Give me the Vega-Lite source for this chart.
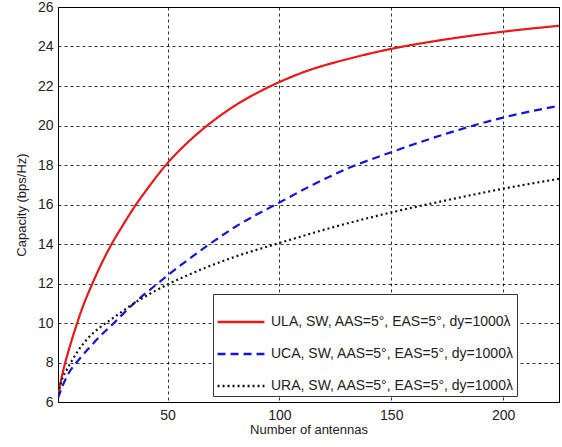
{
  "$schema": "https://vega.github.io/schema/vega-lite/v6.json",
  "width": 501,
  "height": 395,
  "autosize": {"type": "none"},
  "padding": {"left": 58, "top": 7, "right": 3, "bottom": 45},
  "background": "white",
  "config": {
    "font": "Liberation Sans",
    "view": {"stroke": "black", "strokeWidth": 1}
  },
  "datasets": {
    "curves": [
      {"n": 1, "c": 6.3, "s": "ULA"}, {"n": 2, "c": 6.9, "s": "ULA"}, {"n": 4, "c": 7.9, "s": "ULA"}, {"n": 6, "c": 8.7, "s": "ULA"}, {"n": 9, "c": 9.8, "s": "ULA"}, {"n": 12, "c": 10.8, "s": "ULA"}, {"n": 16, "c": 11.9, "s": "ULA"}, {"n": 20, "c": 12.9, "s": "ULA"}, {"n": 25, "c": 14.0, "s": "ULA"}, {"n": 30, "c": 14.95, "s": "ULA"}, {"n": 35, "c": 15.85, "s": "ULA"}, {"n": 40, "c": 16.65, "s": "ULA"}, {"n": 50, "c": 18.1, "s": "ULA"}, {"n": 60, "c": 19.25, "s": "ULA"}, {"n": 70, "c": 20.2, "s": "ULA"}, {"n": 80, "c": 21.0, "s": "ULA"}, {"n": 90, "c": 21.65, "s": "ULA"}, {"n": 100, "c": 22.2, "s": "ULA"}, {"n": 112, "c": 22.75, "s": "ULA"}, {"n": 130, "c": 23.35, "s": "ULA"}, {"n": 150, "c": 23.88, "s": "ULA"}, {"n": 175, "c": 24.37, "s": "ULA"}, {"n": 200, "c": 24.75, "s": "ULA"}, {"n": 225, "c": 25.05, "s": "ULA"},
      {"n": 1, "c": 6.2, "s": "UCA"}, {"n": 3, "c": 6.8, "s": "UCA"}, {"n": 5, "c": 7.3, "s": "UCA"}, {"n": 10, "c": 8.1, "s": "UCA"}, {"n": 15, "c": 8.75, "s": "UCA"}, {"n": 20, "c": 9.35, "s": "UCA"}, {"n": 26, "c": 10.0, "s": "UCA"}, {"n": 35, "c": 11.0, "s": "UCA"}, {"n": 45, "c": 11.95, "s": "UCA"}, {"n": 55, "c": 12.85, "s": "UCA"}, {"n": 67, "c": 13.85, "s": "UCA"}, {"n": 80, "c": 14.85, "s": "UCA"}, {"n": 100, "c": 16.1, "s": "UCA"}, {"n": 115, "c": 17.0, "s": "UCA"}, {"n": 130, "c": 17.8, "s": "UCA"}, {"n": 150, "c": 18.65, "s": "UCA"}, {"n": 175, "c": 19.6, "s": "UCA"}, {"n": 200, "c": 20.4, "s": "UCA"}, {"n": 225, "c": 21.0, "s": "UCA"},
      {"n": 1, "c": 6.4, "s": "URA"}, {"n": 3, "c": 7.2, "s": "URA"}, {"n": 5, "c": 7.65, "s": "URA"}, {"n": 7, "c": 8.05, "s": "URA"}, {"n": 10, "c": 8.6, "s": "URA"}, {"n": 15, "c": 9.3, "s": "URA"}, {"n": 20, "c": 9.8, "s": "URA"}, {"n": 25, "c": 10.2, "s": "URA"}, {"n": 35, "c": 11.0, "s": "URA"}, {"n": 50, "c": 11.95, "s": "URA"}, {"n": 67, "c": 12.8, "s": "URA"}, {"n": 80, "c": 13.35, "s": "URA"}, {"n": 100, "c": 14.05, "s": "URA"}, {"n": 125, "c": 14.88, "s": "URA"}, {"n": 150, "c": 15.6, "s": "URA"}, {"n": 175, "c": 16.22, "s": "URA"}, {"n": 200, "c": 16.8, "s": "URA"}, {"n": 225, "c": 17.3, "s": "URA"}
    ]
  },
  "data": {"name": "curves"},
  "mark": {"type": "line", "strokeWidth": 2.2, "interpolate": "monotone", "clip": true},
  "encoding": {
    "x": {
      "field": "n", "type": "quantitative",
      "scale": {"domain": [1, 225], "nice": false, "zero": false},
      "axis": {
        "values": [50, 100, 150, 200],
        "title": "Number of antennas",
        "titleFont": "Liberation Sans", "titleFontSize": 13, "titleFontWeight": "normal", "titleColor": "#222", "titlePadding": 1,
        "labelFontSize": 14, "labelColor": "#222", "labelPadding": 6,
        "grid": true, "gridColor": "black", "gridDash": [3, 3], "gridOpacity": 0.8,
        "domain": false, "ticks": false
      }
    },
    "y": {
      "field": "c", "type": "quantitative",
      "scale": {"domain": [6, 26], "nice": false, "zero": false},
      "axis": {
        "values": [6, 8, 10, 12, 14, 16, 18, 20, 22, 24, 26],
        "title": "Capacity (bps/Hz)",
        "titleFont": "Liberation Sans", "titleFontSize": 13, "titleFontWeight": "normal", "titleColor": "#222", "titlePadding": 9,
        "labelFontSize": 14, "labelColor": "#222", "labelPadding": 5,
        "grid": true, "gridColor": "black", "gridDash": [3, 3], "gridOpacity": 0.8,
        "domain": false, "ticks": false
      }
    },
    "color": {
      "field": "s", "type": "nominal",
      "scale": {"domain": ["ULA", "UCA", "URA"], "range": ["#e41a1c", "#1414d2", "#111111"]},
      "legend": {
        "title": null,
        "orient": "none", "legendX": 155, "legendY": 287,
        "direction": "vertical",
        "fillColor": "white", "strokeColor": "#333", "padding": 3,
        "symbolType": "stroke", "symbolSize": 2200, "symbolStrokeWidth": 2.5,
        "labelFontSize": 14, "labelColor": "#222", "labelOffset": 5, "labelLimit": 0,
        "rowPadding": -8,
        "labelExpr": "datum.label + ', SW, AAS=5°, EAS=5°, dy=1000λ'"
      }
    },
    "strokeDash": {
      "field": "s", "type": "nominal",
      "scale": {"domain": ["ULA", "UCA", "URA"], "range": [[1, 0], [8, 5], [2, 3]]},
      "legend": null
    }
  }
}
